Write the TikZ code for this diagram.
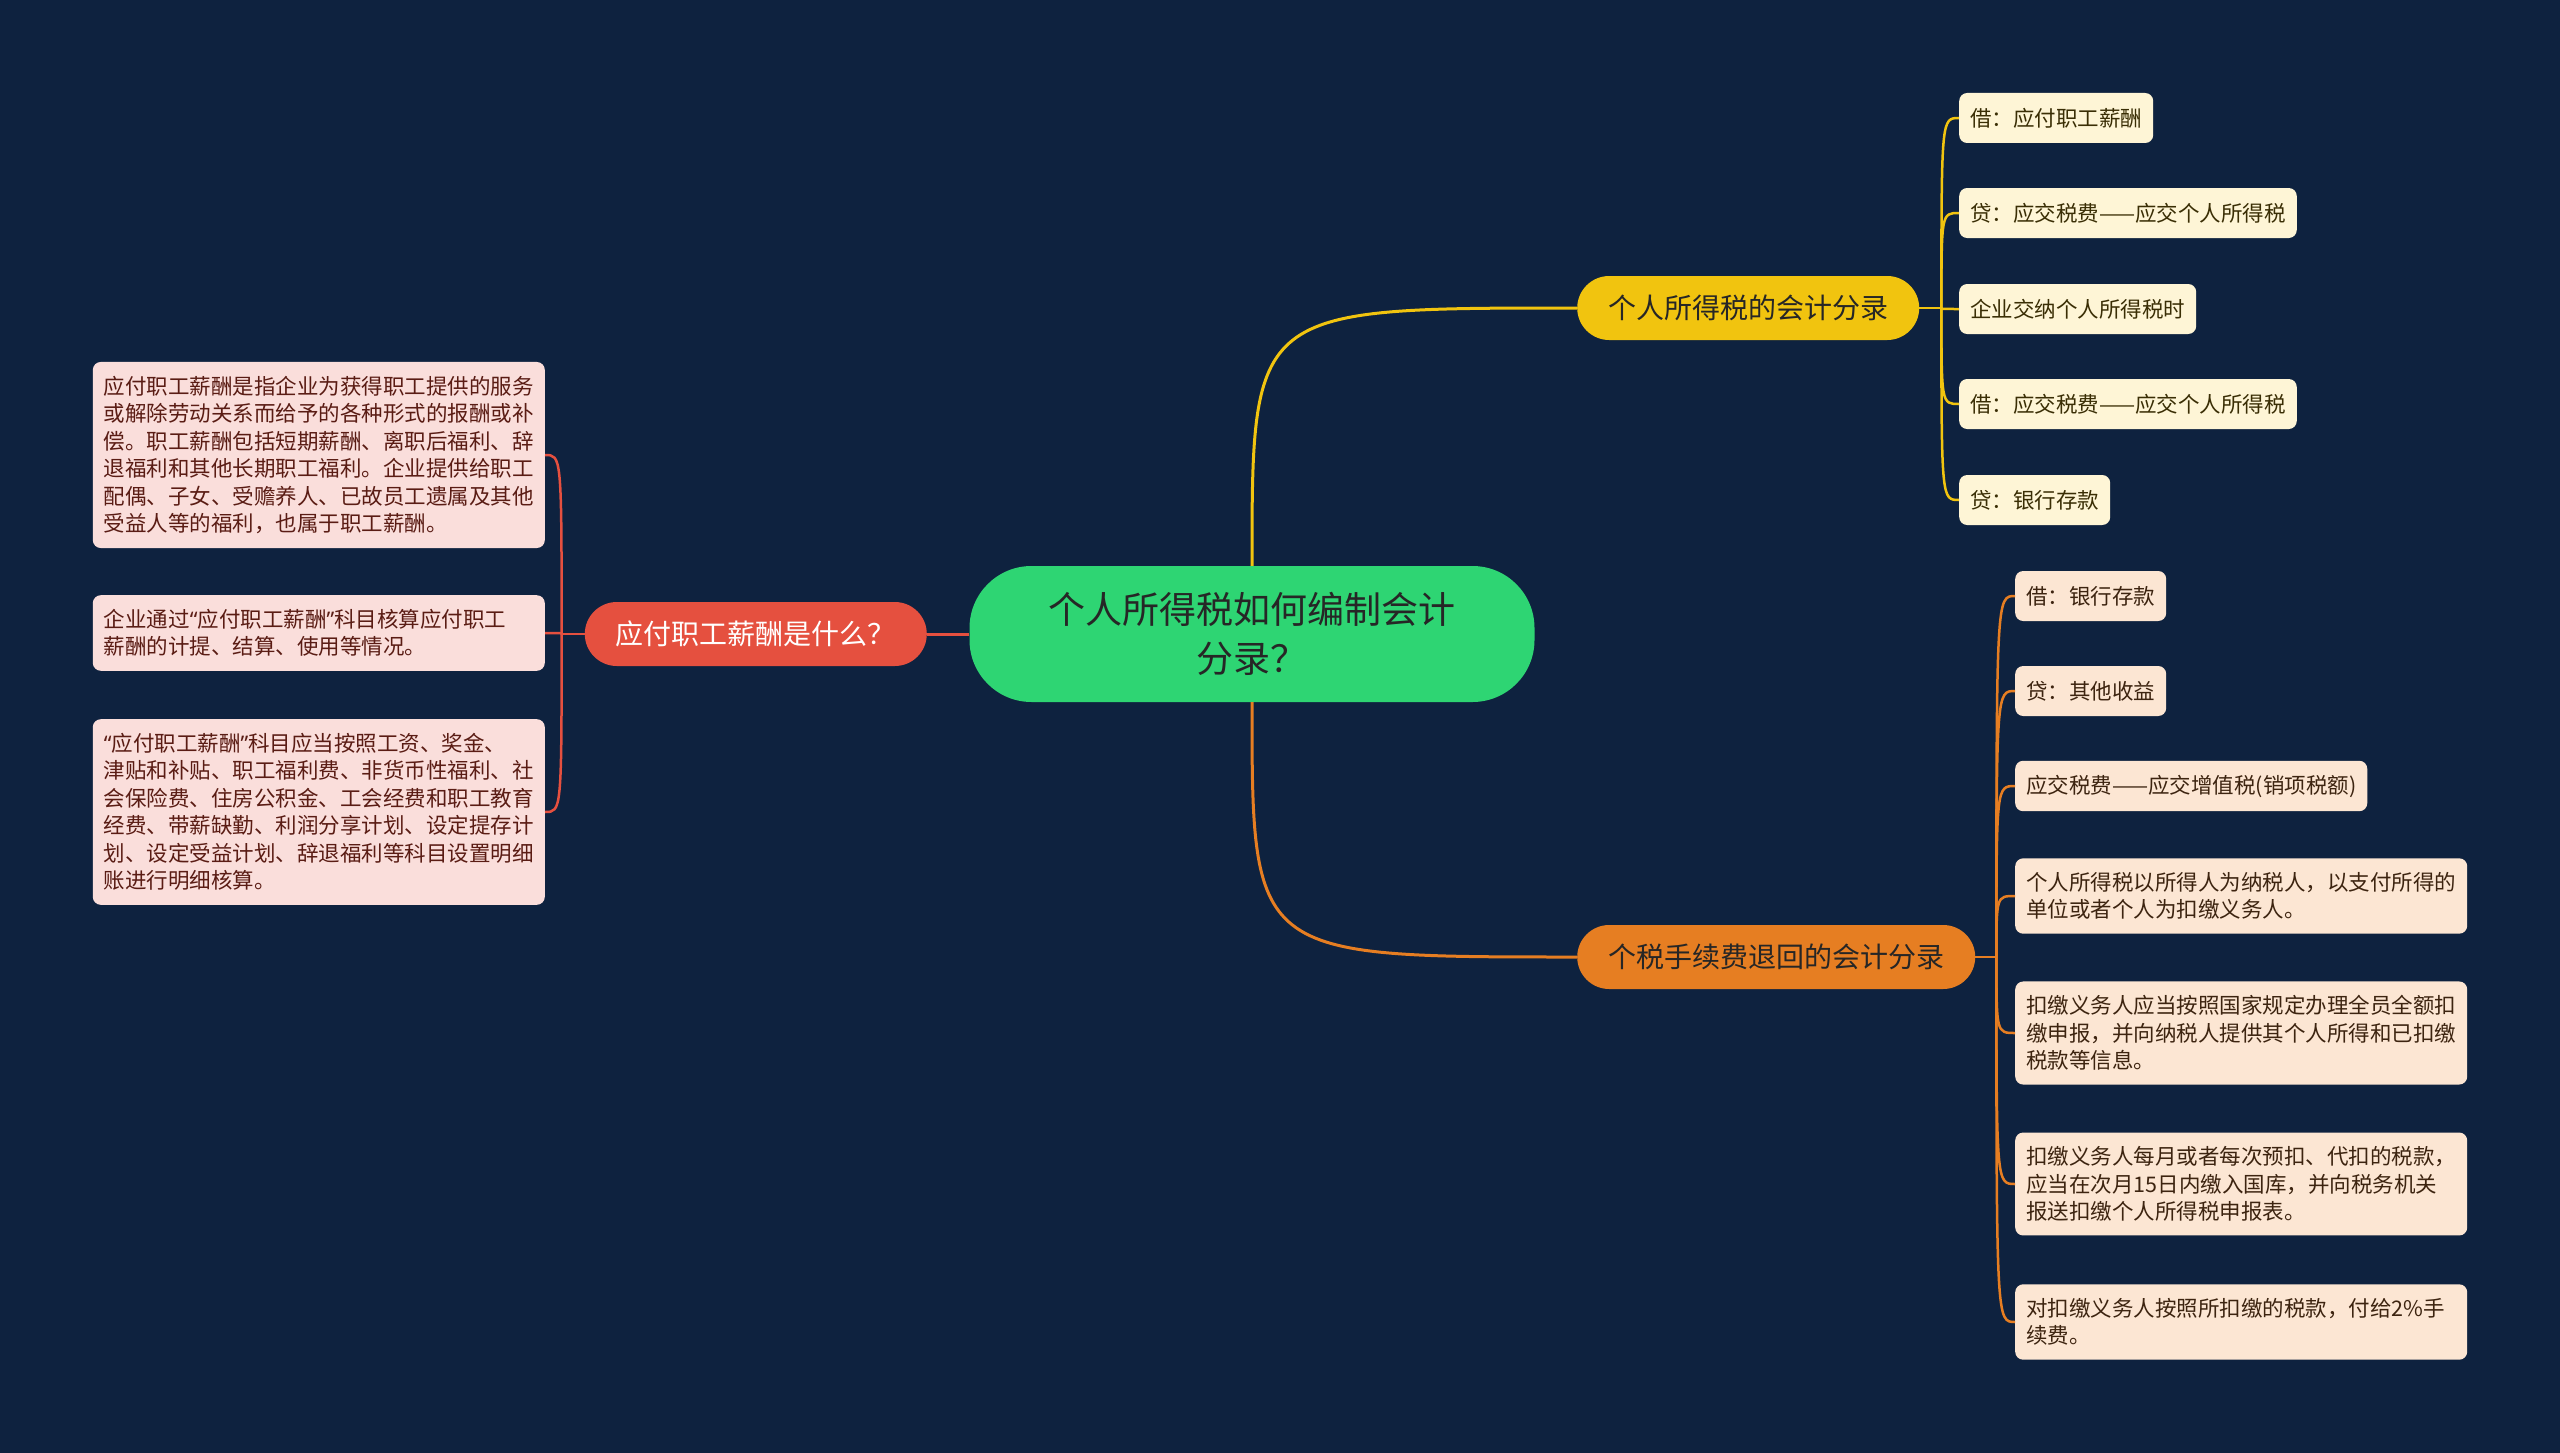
\documentclass[tikz,border=0pt]{standalone}
\usepackage{fontspec}
\usepackage{tikz}
\usetikzlibrary{positioning}
\newfontfamily\cjk{Noto Sans CJK SC}
\newfontfamily\quotefont{Noto Sans}
\newcommand\oq{{\quotefont “}}
\newcommand\cq{{\quotefont ”}}

\definecolor{bgnavy}{HTML}{0E223F}
\definecolor{rootgreen}{HTML}{2ED573}
\definecolor{redmain}{HTML}{E5503F}
\definecolor{yelmain}{HTML}{F1C40F}
\definecolor{orgmain}{HTML}{E67E22}
\definecolor{redleaf}{HTML}{FADEDB}
\definecolor{yelleaf}{HTML}{FEF5D6}
\definecolor{orgleaf}{HTML}{FCE6D3}
\definecolor{redtext}{HTML}{5A1C14}
\definecolor{yeltext}{HTML}{3A2E05}
\definecolor{orgtext}{HTML}{3D2410}

\tikzstyle{rootbox} = [rectangle, rounded corners=62pt, minimum width=565pt,
                       minimum height=136pt, align=center, fill=rootgreen,
                       text=black!85, font=\cjk\fontsize{37}{49}\selectfont]
\tikzstyle{topic}   = [rectangle, rounded corners=32pt, minimum height=64pt,
                       inner xsep=31pt, font=\cjk\fontsize{28}{34}\selectfont]
\tikzstyle{leaf}    = [rectangle, rounded corners=8pt, minimum height=50pt,
                       inner xsep=11pt, inner ysep=14pt, align=left,
                       font=\cjk\fontsize{21.5}{27.5}\selectfont]
\tikzstyle{wide}    = [text width=430pt]
\tikzstyle{mainline} = [line width=3pt]
\tikzstyle{leafline} = [line width=2.5pt]

\begin{document}
\begin{tikzpicture}[x=1pt, y=-1pt]

    % ── Canvas ──────────────────────────────────────────────────────────────
    \fill [bgnavy] (0,0) rectangle (2560,1453);
    \useasboundingbox (0,0) rectangle (2560,1453);

    % ── Centre and topics ───────────────────────────────────────────────────
    \node (root) [rootbox] at (1252,634) {个人所得税如何编制会计\\分录？};
    \node (wage) [topic, fill=redmain, text=white, anchor=east] at (927,634)
          {应付职工薪酬是什么？};
    \node (entry) [topic, fill=yelmain, text=black!85, anchor=west] at (1577,308)
          {个人所得税的会计分录};
    \node (fee) [topic, fill=orgmain, text=black!85, anchor=west] at (1577,957)
          {个税手续费退回的会计分录};

    % ── Left leaves ─────────────────────────────────────────────────────────
    \node (w1) [leaf, wide, fill=redleaf, text=redtext, anchor=east] at (545,455)
          {应付职工薪酬是指企业为获得职工提供的服务\\或解除劳动关系而给予的各种形式的报酬或补\\偿。职工薪酬包括短期薪酬、离职后福利、辞\\退福利和其他长期职工福利。企业提供给职工\\配偶、子女、受赡养人、已故员工遗属及其他\\受益人等的福利，也属于职工薪酬。};
    \node (w2) [leaf, wide, fill=redleaf, text=redtext, anchor=east] at (545,633)
          {企业通过\oq 应付职工薪酬\cq 科目核算应付职工\\薪酬的计提、结算、使用等情况。};
    \node (w3) [leaf, wide, fill=redleaf, text=redtext, anchor=east] at (545,812)
          {\oq 应付职工薪酬\cq 科目应当按照工资、奖金、\\津贴和补贴、职工福利费、非货币性福利、社\\会保险费、住房公积金、工会经费和职工教育\\经费、带薪缺勤、利润分享计划、设定提存计\\划、设定受益计划、辞退福利等科目设置明细\\账进行明细核算。};

    % ── Upper right leaves ──────────────────────────────────────────────────
    \node (e1) [leaf, fill=yelleaf, text=yeltext, anchor=west] at (1959,118) {借：应付职工薪酬};
    \node (e2) [leaf, fill=yelleaf, text=yeltext, anchor=west] at (1959,213) {贷：应交税费——应交个人所得税};
    \node (e3) [leaf, fill=yelleaf, text=yeltext, anchor=west] at (1959,309) {企业交纳个人所得税时};
    \node (e4) [leaf, fill=yelleaf, text=yeltext, anchor=west] at (1959,404) {借：应交税费——应交个人所得税};
    \node (e5) [leaf, fill=yelleaf, text=yeltext, anchor=west] at (1959,500) {贷：银行存款};

    % ── Lower right leaves ──────────────────────────────────────────────────
    \node (f1) [leaf, fill=orgleaf, text=orgtext, anchor=west] at (2015,596) {借：银行存款};
    \node (f2) [leaf, fill=orgleaf, text=orgtext, anchor=west] at (2015,691) {贷：其他收益};
    \node (f3) [leaf, fill=orgleaf, text=orgtext, anchor=west] at (2015,786) {应交税费——应交增值税(销项税额)};
    \node (f4) [leaf, wide, fill=orgleaf, text=orgtext, anchor=west] at (2015,896)
          {个人所得税以所得人为纳税人，以支付所得的\\单位或者个人为扣缴义务人。};
    \node (f5) [leaf, wide, fill=orgleaf, text=orgtext, anchor=west] at (2015,1033)
          {扣缴义务人应当按照国家规定办理全员全额扣\\缴申报，并向纳税人提供其个人所得和已扣缴\\税款等信息。};
    \node (f6) [leaf, wide, fill=orgleaf, text=orgtext, anchor=west] at (2015,1184)
          {扣缴义务人每月或者每次预扣、代扣的税款，\\应当在次月15日内缴入国库，并向税务机关\\报送扣缴个人所得税申报表。};
    \node (f7) [leaf, wide, fill=orgleaf, text=orgtext, anchor=west] at (2015,1322)
          {对扣缴义务人按照所扣缴的税款，付给2\%手\\续费。};

    % ── Main branches ───────────────────────────────────────────────────────
    \draw [mainline, redmain] (root.west) -- (wage.east);
    \draw [mainline, yelmain] (root.north) .. controls (root.north |- entry.west) .. (entry.west);
    \draw [mainline, orgmain] (root.south) .. controls (root.south |- fee.west) .. (fee.west);

    % ── Leaf branches ───────────────────────────────────────────────────────
    \draw [leafline, redmain] (wage.west) -- ++(-23,0) coordinate (wtrunk);
    \foreach \n in {w1,w2,w3}
        \draw [leafline, redmain] (wtrunk) .. controls (wtrunk |- \n.east) .. (\n.east);

    \draw [leafline, yelmain] (entry.east) -- ++(22,0) coordinate (etrunk);
    \foreach \n in {e1,e2,e3,e4,e5}
        \draw [leafline, yelmain] (etrunk) .. controls (etrunk |- \n.west) .. (\n.west);

    \draw [leafline, orgmain] (fee.east) -- ++(21,0) coordinate (ftrunk);
    \foreach \n in {f1,f2,f3,f4,f5,f6,f7}
        \draw [leafline, orgmain] (ftrunk) .. controls (ftrunk |- \n.west) .. (\n.west);

\end{tikzpicture}
\end{document}
